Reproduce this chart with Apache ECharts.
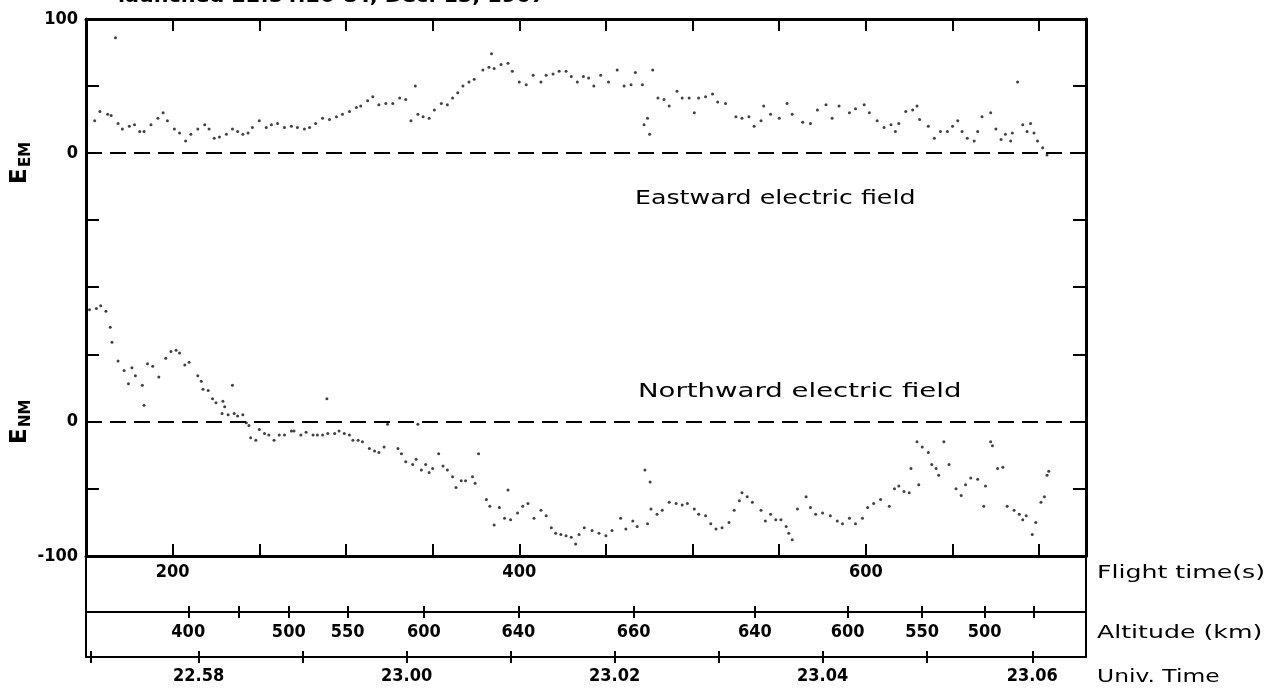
<!DOCTYPE html>
<html><head><meta charset="utf-8">
<script src="https://cdn.jsdelivr.net/npm/echarts@6/dist/echarts.min.js"></script>
<style>html,body{margin:0;padding:0;background:#fff}#c{width:1274px;height:694px}</style>
</head><body><div id="c"></div>
<script>
// Flight time axis range (s)
const flightMin = 150, flightMax = 727;
const flightLabels = [200, 400, 600];
// Altitude ticks (positions on flight-time scale) and labels (km)
const altTickTimes  = [209, 238, 267, 301, 345, 399.5, 466, 536, 589.5, 632.5, 668.5, 697];
const altTickLabels = ['400', '', '500', '550', '600', '640', '660', '640', '600', '550', '500', ''];
// Universal time ticks (positions on flight-time scale) and labels
const utTickTimes  = [153, 215, 275, 335, 395, 455, 515, 575, 635, 696];
const utTickLabels = ['', '22.58', '', '23.00', '', '23.02', '', '23.04', '', '23.06'];

// Eastward electric field samples [flight time s, E_EM]
const eemPoints = [[155,24],[158,31],[162.5,29],[164.5,28],[167,86],[168.5,22],[171,18],[175,20],[178,21],[181,16],[183.5,16],[187.5,21],[191.5,26],[194.5,30],[197,24],[201,18],[204,15],[207.5,9],[210.5,14],[214.5,18],[218.5,21],[221,18],[224,11],[227,12],[231,14],[234.5,18],[237.5,16],[240.5,14],[243.5,15],[246,19],[250,24],[254,19],[257,21],[260.5,22],[264.5,19],[268.5,20],[272,19],[276,18],[279,19],[282.5,22],[286.5,26],[290.5,25],[294.5,27],[298,29],[302,31],[306,34],[308.5,35],[312.5,39],[315.5,42],[319,36],[323,37],[327,37],[331,41],[334.5,40],[337.5,24],[340,50],[341.5,29],[344.5,27],[348,26],[351,32],[355,37],[358.5,36],[361.5,41],[364.5,45],[367.5,50],[371,53],[374,55],[379,62],[382.5,64],[384,74],[385.5,63],[389.5,66],[393.5,67],[396,61],[400,53],[404,51],[408,58],[412.5,53],[415.5,58],[419.5,59],[423,61],[427,61],[430,57],[433.5,53],[437,57],[440,56],[443,50],[447,58],[451.5,53],[456.5,62],[460.5,50],[464.5,51],[467,60],[471,51],[472,21],[474,26],[475.2,14],[477,62],[480,41],[483.5,40],[486.5,35],[491,46],[494,41],[498,41],[501,30],[503.5,41],[507.5,42],[511.5,44],[514.5,38],[519,37],[525,27],[528.5,26],[532.5,27],[535.5,20],[539.5,24],[541,35],[545,29],[550,26],[554.5,37],[557.5,29],[563.5,23],[568,22],[572,32],[577,36],[580.5,26],[584.5,35],[590.5,30],[594,33],[599,36],[602,30],[606.5,24],[610.5,19],[614.5,21],[617,16],[619,22],[623,31],[627,32],[629.5,35],[631,25],[636,20],[639.5,11],[643,16],[647,16],[650,20],[653,24],[655.5,16],[658.5,11],[662.5,9],[664.5,16],[667,27],[672,30],[675,18],[678,10],[680.5,14],[683.5,9],[684.5,15],[687.5,53],[690.5,21],[693,16],[695,22],[697,15],[699,9],[702,4],[704.5,-1.5]];

// Northward electric field samples [flight time s, E_NM]
const enmPoints = [[152,83],[156,84],[158.5,86],[161.5,82],[164,70],[165,59],[168.5,45],[172,38],[174.5,28],[176.5,40],[178.5,34],[182.5,27],[183.5,12],[185.5,43],[188.5,41],[192,33],[196,47],[199,52],[202,53],[204,51],[207,42],[209.5,44],[214.5,34],[216.5,30],[217.5,24],[220.5,23],[223,17],[225,14],[228.5,6],[229,15],[230,11],[232,5],[234.5,27],[235.5,6],[237.5,4],[240.5,5],[242.5,-1],[244,-3],[245,-12],[248,-14],[250,-6],[253,-9],[255.5,-10],[258.5,-14],[261.5,-10],[264.5,-10],[268.5,-7],[270,-7],[274,-10],[277,-8],[281,-10],[283.5,-10],[286.5,-10],[289,17],[289.5,-9],[293.5,-9],[296,-7],[299,-9],[302,-10],[304,-14],[307,-14],[309.5,-15],[313.5,-20],[316.5,-22],[319,-23],[322,-19],[324,-2],[330,-20],[332,-24],[334.5,-30],[338.5,-32],[340.5,-28],[341.5,-2],[343.5,-36],[346,-32],[348,-38],[350,-35],[353.5,-24],[356,-33],[358.5,-36],[361.5,-41],[363.5,-49],[366.5,-44],[369,-44],[373,-41],[374.5,-46],[376.5,-24],[381,-58],[383,-63],[385.5,-77],[388.5,-64],[391.5,-72],[393.5,-51],[395,-73],[399,-68],[402,-63],[405,-61],[408.5,-72],[412.5,-66],[415.5,-70],[418.5,-79],[421,-83],[424,-84],[427,-85],[430,-86],[432.5,-91],[434.5,-84],[437.5,-79],[442,-81],[446,-83],[450,-85],[453.5,-81],[458.5,-72],[461.5,-80],[465.5,-74],[468,-78],[472.5,-36],[474,-76],[475.5,-45],[476,-65],[479.5,-69],[482.5,-66],[486.5,-60],[490.5,-61],[494,-62],[497,-61],[501,-65],[503.5,-69],[507.5,-70],[510.5,-76],[513.5,-80],[517,-79],[521,-75],[524,-66],[527,-59],[528.5,-53],[531.5,-56],[534.5,-60],[539.5,-66],[542,-74],[545,-69],[548,-73],[551,-73],[554,-78],[555.5,-83],[557.5,-88],[560.5,-65],[565.5,-56],[568,-64],[571,-69],[575,-68],[579.5,-70],[583.5,-74],[586.5,-76],[590.5,-72],[594,-76],[598,-72],[601,-64],[604.5,-61],[608.5,-58],[613.5,-63],[616.5,-50],[619,-48],[622,-52],[625,-53],[626,-35],[629.5,-15],[630.5,-47],[632.5,-19],[636,-23],[638,-32],[640.5,-35],[642,-40],[645,-15],[648,-32],[652,-50],[655,-55],[657.5,-47],[660.5,-42],[664.5,-43],[668,-63],[669,-48],[672,-15],[673,-18],[676,-35],[679,-34],[681.5,-63],[685.5,-66],[688.5,-69],[690.5,-73],[692.5,-70],[696,-84],[698,-75],[701,-60],[703,-56],[704.5,-40],[705.5,-37]];

const topLabels = ['100', '0'];     // E_EM axis labels shown
const bottomLabels = ['0', '-100']; // E_NM axis labels shown

function nearestLabel(times, labels, v) {
  let best = 0, d = Infinity;
  times.forEach((t, i) => { const dd = Math.abs(t - v); if (dd < d) { d = dd; best = i; } });
  return d < 0.6 ? labels[best] : '';
}

const numFont = { color: '#000', fontFamily: 'DejaVu Sans Condensed, DejaVu Sans', fontWeight: 'bold', fontSize: 18 };
const black = '#000';

function flightAxis(gridIndex, position, showLabels) {
  return {
    gridIndex, type: 'value', position, min: flightMin, max: flightMax, interval: 50,
    axisLine: { onZero: false, lineStyle: { color: black, width: 3 } },
    axisTick: { inside: true, length: 12, lineStyle: { color: black, width: 2 } },
    axisLabel: showLabels ? Object.assign({ margin: 7, formatter: v => flightLabels.includes(v) ? String(v) : '' }, numFont) : { show: false },
    splitLine: { show: false }
  };
}
function customAxis(offset, times, labels, outward, labelMargin) {
  return {
    gridIndex: 1, type: 'value', position: 'bottom', offset, min: flightMin, max: flightMax,
    axisLine: { show: outward, onZero: false, lineStyle: { color: black, width: 2 } },
    axisTick: { show: true, inside: !outward, length: 6, customValues: times, lineStyle: { color: black, width: 2 } },
    axisLabel: outward ? Object.assign({ margin: labelMargin, customValues: times, formatter: v => nearestLabel(times, labels, v) }, numFont) : { show: false },
    splitLine: { show: false }
  };
}
function valueAxis(gridIndex, position, labels) {
  return {
    gridIndex, type: 'value', position, min: -100, max: 100, interval: 50,
    axisLine: { onZero: false, lineStyle: { color: black, width: 3 } },
    axisTick: { inside: true, length: 13, lineStyle: { color: black, width: 2 } },
    axisLabel: labels ? Object.assign({ margin: 8, formatter: v => labels.includes(String(v)) ? String(v) : '' }, numFont) : { show: false },
    splitLine: { show: false }
  };
}
const zeroLine = {
  silent: true, symbol: 'none', label: { show: false },
  lineStyle: { color: black, type: [16, 8], width: 2 },
  data: [{ yAxis: 0 }]
};

const chart = echarts.init(document.getElementById('c'));
chart.setOption({
  animation: false,
  backgroundColor: '#fff',
  grid: [
    { left: 86, right: 188, top: 19, height: 268 },
    { left: 86, right: 188, top: 287, height: 269 },
    { left: 86, right: 188, top: 556, height: 101 }
  ],
  xAxis: [
    flightAxis(0, 'top', false),
    flightAxis(1, 'bottom', true),
    customAxis(56, altTickTimes, altTickLabels, true, 11),
    customAxis(56, altTickTimes, altTickLabels, false, 0),
    customAxis(101, utTickTimes, utTickLabels, true, 10),
    customAxis(101, utTickTimes, utTickLabels, false, 0),
    { gridIndex: 2, type: 'value', min: flightMin, max: flightMax, show: false }
  ],
  yAxis: [
    valueAxis(0, 'left', topLabels),
    valueAxis(0, 'right', null),
    valueAxis(1, 'left', bottomLabels),
    valueAxis(1, 'right', null),
    { gridIndex: 2, type: 'value', position: 'left', min: 0, max: 1, axisLine: { onZero: false, lineStyle: { color: black, width: 2 } }, axisTick: { show: false }, axisLabel: { show: false }, splitLine: { show: false } },
    { gridIndex: 2, type: 'value', position: 'right', min: 0, max: 1, axisLine: { onZero: false, lineStyle: { color: black, width: 2 } }, axisTick: { show: false }, axisLabel: { show: false }, splitLine: { show: false } }
  ],
  series: [
    { type: 'scatter', xAxisIndex: 0, yAxisIndex: 0, data: eemPoints, symbolSize: 3, itemStyle: { color: '#111' }, markLine: zeroLine },
    { type: 'scatter', xAxisIndex: 1, yAxisIndex: 2, data: enmPoints, symbolSize: 3, itemStyle: { color: '#111' }, markLine: zeroLine }
  ],
  graphic: [
    { type: 'text', x: 118, y: 6, scaleX: 1.15, style: { text: 'launched 22:54:20 UT, Dec. 15, 1967', fill: black, font: 'bold 18px "DejaVu Sans"', align: 'left', verticalAlign: 'bottom' } },
    { type: 'group', x: 9, y: 184, rotation: Math.PI / 2, children: [
      { type: 'text', x: 0, y: 0, style: { text: 'E', fill: black, font: 'bold 23px "DejaVu Sans"', verticalAlign: 'top' } },
      { type: 'text', x: 17, y: 10, style: { text: 'EM', fill: black, font: 'bold 15px "DejaVu Sans"', verticalAlign: 'top' } }
    ] },
    { type: 'group', x: 9, y: 444, rotation: Math.PI / 2, children: [
      { type: 'text', x: 0, y: 0, style: { text: 'E', fill: black, font: 'bold 23px "DejaVu Sans"', verticalAlign: 'top' } },
      { type: 'text', x: 17, y: 10, style: { text: 'NM', fill: black, font: 'bold 15px "DejaVu Sans"', verticalAlign: 'top' } }
    ] },
    { type: 'text', x: 635, y: 199, scaleX: 1.33, style: { text: 'Eastward electric field', fill: black, font: '19px "DejaVu Sans"', align: 'left', verticalAlign: 'middle' } },
    { type: 'text', x: 638, y: 392, scaleX: 1.45, style: { text: 'Northward electric field', fill: black, font: '19px "DejaVu Sans"', align: 'left', verticalAlign: 'middle' } },
    { type: 'text', x: 1097, y: 573, scaleX: 1.4, style: { text: 'Flight time(s)', fill: black, font: '18px "DejaVu Sans"', align: 'left', verticalAlign: 'middle' } },
    { type: 'text', x: 1097, y: 633, scaleX: 1.4, style: { text: 'Altitude (km)', fill: black, font: '18px "DejaVu Sans"', align: 'left', verticalAlign: 'middle' } },
    { type: 'text', x: 1097, y: 677, scaleX: 1.3, style: { text: 'Univ. Time', fill: black, font: '18px "DejaVu Sans"', align: 'left', verticalAlign: 'middle' } }
  ]
});
</script>
</body></html>
